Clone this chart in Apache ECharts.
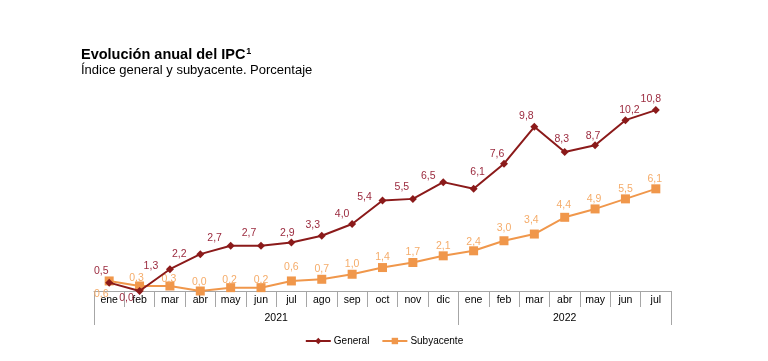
<!DOCTYPE html>
<html><head><meta charset="utf-8">
<script src="https://cdn.jsdelivr.net/npm/echarts@6/dist/echarts.min.js"></script>
<style>html,body{margin:0;padding:0;background:#fff}#c{width:768px;height:361px}</style>
</head><body><div id="c"></div>
<script>
const months = ['ene','feb','mar','abr','may','jun','jul','ago','sep','oct','nov','dic','ene','feb','mar','abr','may','jun','jul'];
const years = ['2021','2022'];
const monthsPerYear = [12, 7];
const general = [0.5,0.0,1.3,2.2,2.7,2.7,2.9,3.3,4.0,5.4,5.5,6.5,6.1,7.6,9.8,8.3,8.7,10.2,10.8];
const subyacente = [0.6,0.3,0.3,0.0,0.2,0.2,0.6,0.7,1.0,1.4,1.7,2.1,2.4,3.0,3.4,4.4,4.9,5.5,6.1];

// label placement tweaks (style only)
const genShift = [[-8,-1],[-13,18],[-19,7],[-21,10],[-16,3],[-12,-2],[-4,1],[-9,0],[-10,1],[-18,7],[-11,-1],[-15,4],[4,-6],[-7,1],[-8,0],[-3,-2],[-2,1],[4,0],[-5,0]];
const subShift = [[-8,23],[-3,2],[-1,3],[-1,1],[-1,2],[0,2],[0,-4],[0,0],[0,0],[0,0],[0,0],[0,0],[0,1],[0,-3],[-3,-4],[-1,-2],[-1,0],[0,0],[-1,0]];

const fmt = v => v.toFixed(1).replace('.', ',');
const GEN = '#8B1A1A', GENL = '#9B2A3E', SUB = '#F0974B', SUBL = '#F5AC6A';

// half-month year axis
const half = [];
const yearTicks = [0];
let acc = 0;
for (let i = 0; i < 2 * months.length + 1; i++) half.push('');
years.forEach((y, k) => {
  half[2 * acc + monthsPerYear[k]] = y;
  acc += monthsPerYear[k];
  yearTicks.push(2 * acc);
});

const genData = general.map((v, i) => ({value: v, label: {offset: genShift[i]}}));
const subData = subyacente.map((v, i) => ({value: v, label: {offset: subShift[i]}}));

const chart = echarts.init(document.getElementById('c'));
chart.setOption({
  animation: false,
  textStyle: {fontFamily: 'Liberation Sans, Arial, sans-serif'},
  title: [{
    text: '{t|Evolución anual del IPC}{s|1}',
    subtext: 'Índice general y subyacente. Porcentaje',
    left: 76, top: 42, itemGap: 2,
    textStyle: {rich: {
      t: {fontSize: 14.5, fontWeight: 'bold', color: '#000', fontFamily: 'Liberation Sans'},
      s: {fontSize: 9, fontWeight: 'bold', color: '#000', verticalAlign: 'top', padding: [0,0,6,1], fontFamily: 'Liberation Sans'}
    }},
    subtextStyle: {fontSize: 13, color: '#000', fontFamily: 'Liberation Sans'}
  }],
  legend: {
    bottom: 10, left: 'center', itemGap: 12, itemWidth: 25, itemHeight: 8,
    textStyle: {fontSize: 10, color: '#000', padding: [0,0,0,-2]},
    data: [{name: 'General'}, {name: 'Subyacente'}]
  },
  grid: {left: 94, right: 97, top: 90, bottom: 70},
  xAxis: [{
    type: 'category', data: months, boundaryGap: true,
    axisLine: {lineStyle: {color: '#A6A6A6', width: 1}},
    axisTick: {show: true, interval: 0, length: 16, lineStyle: {color: '#A6A6A6'}},
    axisLabel: {interval: 0, color: '#000', fontSize: 10.5, margin: 4}
  }, {
    type: 'category', data: half, boundaryGap: false, position: 'bottom', offset: 16,
    axisLine: {show: false},
    axisTick: {show: true, length: 18, lineStyle: {color: '#A6A6A6'},
      interval: (idx) => yearTicks.indexOf(idx) >= 0},
    axisLabel: {color: '#000', fontSize: 10.5, margin: 6,
      interval: (idx, val) => val !== ''}
  }],
  yAxis: {type: 'value', min: 0, max: 12, show: false},
  series: [{
    name: 'General', type: 'line', data: genData, xAxisIndex: 0,
    symbol: 'diamond', symbolSize: 8, color: GEN,
    lineStyle: {color: GEN, width: 2}, itemStyle: {color: GEN},
    label: {show: true, position: 'top', distance: 1, fontSize: 10.5, color: GENL,
      formatter: p => fmt(p.value)},
    z: 3
  }, {
    name: 'Subyacente', type: 'line', data: subData, xAxisIndex: 0,
    symbol: 'rect', symbolSize: 9, color: SUB,
    lineStyle: {color: SUB, width: 2}, itemStyle: {color: SUB},
    label: {show: true, position: 'top', distance: 0, fontSize: 10.5, color: SUBL,
      formatter: p => fmt(p.value)},
    z: 2
  }]
});
</script></body></html>
